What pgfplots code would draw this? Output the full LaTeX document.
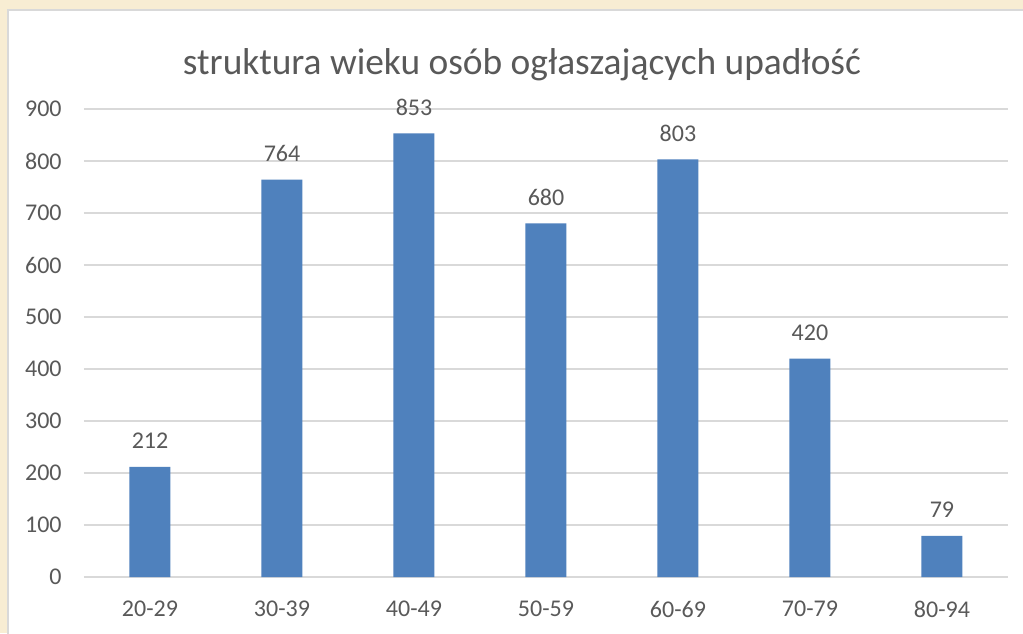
\documentclass[border=0pt]{standalone}
\usepackage{fontspec}
\setmainfont{Carlito}
\usepackage{pgfplots}
\pgfplotsset{compat=1.18}
\definecolor{barblue}{HTML}{4F81BD}
\definecolor{txt}{HTML}{595959}
\definecolor{gridc}{HTML}{D9D9D9}
\definecolor{cream}{HTML}{F8EDD3}
\begin{document}
\begin{tikzpicture}[x=1pt,y=1pt]
\useasboundingbox (-42,-28) rectangle (469.5,288.5);
\fill[cream] (-42,-28) rectangle (469.5,288.5);
\filldraw[fill=white, draw=gridc, line width=0.8pt] (-38,-30) rectangle (471,283.5);
\node[anchor=base, text=txt, font=\fontsize{18.7}{22}\selectfont] at (219,251) {struktura wieku osób ogłaszających upadłość};
\begin{axis}[
  at={(0,0)}, anchor=south west,
  width=462pt, height=234pt, scale only axis,
  xmin=-0.5, xmax=6.5, ymin=0, ymax=900,
  axis line style={draw=none},
  ymajorgrids, grid style={gridc, line width=0.65pt},
  ytick={0,100,...,900},
  xtick=data,
  xticklabels={20-29,30-39,40-49,50-59,60-69,70-79,80-94},
  major tick length=0pt,
  /pgf/number format/assume math mode=true,
  tick label style={text=txt, font=\fontsize{12}{14}\selectfont},
  yticklabel style={anchor=east, inner sep=0pt, xshift=-11pt},
  xticklabel style={anchor=north, inner sep=0pt, yshift=-12pt},
  ybar, bar width=20.5pt,
  nodes near coords,
  every node near coord/.append style={anchor=base, inner sep=0pt, yshift=9pt, text=txt, font=\fontsize{12}{14}\selectfont, /pgf/number format/assume math mode=true},
  clip=false,
]
\addplot[fill=barblue, draw=none] coordinates {(0,212) (1,764) (2,853) (3,680) (4,803) (5,420) (6,79)};
\end{axis}
\end{tikzpicture}
\end{document}
